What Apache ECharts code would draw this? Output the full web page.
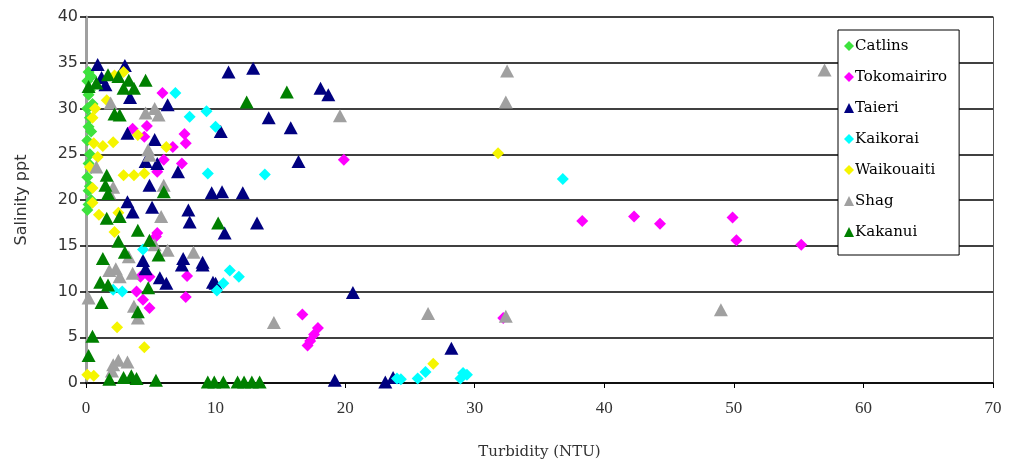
<!DOCTYPE html>
<html><head><meta charset="utf-8">
<script src="https://cdn.jsdelivr.net/npm/echarts@6/dist/echarts.min.js"></script>
<style>html,body{margin:0;padding:0;background:#fff;}#c{width:1011px;height:466px;}</style>
</head><body><div id="c"></div>
<script>
const seriesNames = ['Catlins','Tokomairiro','Taieri','Kaikorai','Waikouaiti','Shag','Kakanui'];
const xTicks = [0,10,20,30,40,50,60,70];
const yTicks = [0,5,10,15,20,25,30,35,40];

const catlins = [[0.2,34.0],[0.4,33.5],[0.1,33.0],[0.3,32.0],[0.2,31.5],[0.5,30.5],[0.1,30.0],[0.3,29.0],[0.2,28.0],[0.4,27.5],[0.1,26.5],[0.3,25.0],[0.2,24.0],[0.4,23.5],[0.1,22.5],[0.3,21.5],[0.2,21.0],[0.4,20.0],[0.2,19.5],[0.1,18.9]];
const tokomairiro = [[5.9,31.7],[4.7,28.1],[3.6,27.8],[4.5,26.9],[7.6,27.2],[7.7,26.2],[6.7,25.8],[6.0,24.4],[7.4,24.0],[5.5,23.1],[5.5,16.4],[5.4,16.0],[4.2,11.6],[4.9,11.6],[7.8,11.7],[3.9,10.0],[4.4,9.1],[4.9,8.2],[7.7,9.4],[19.9,24.4],[16.7,7.5],[17.9,6.0],[17.6,5.3],[17.3,4.6],[17.1,4.1],[32.2,7.1],[38.3,17.7],[42.3,18.2],[44.3,17.4],[49.9,18.1],[50.2,15.6],[55.2,15.1]];
const taieri = [[0.9,34.8],[3.0,34.7],[1.2,33.4],[1.5,32.6],[3.4,31.2],[6.3,30.4],[11.0,34.0],[12.9,34.4],[18.1,32.2],[18.7,31.5],[14.1,29.0],[15.8,27.9],[10.4,27.5],[3.2,27.3],[5.3,26.6],[4.6,24.2],[5.5,24.0],[7.1,23.1],[16.4,24.2],[4.9,21.6],[3.2,19.8],[3.6,18.7],[5.1,19.2],[7.9,18.9],[9.7,20.8],[10.5,20.9],[12.1,20.8],[8.0,17.6],[10.7,16.4],[13.2,17.5],[4.4,13.4],[4.6,12.5],[7.5,13.6],[7.4,12.9],[9.0,13.2],[9.0,12.9],[5.7,11.5],[6.2,10.9],[9.8,11.0],[10.0,10.9],[20.6,9.9],[19.2,0.3],[23.1,0.1],[23.7,0.6],[28.2,3.8]];
const kaikorai = [[6.9,31.7],[8.0,29.1],[9.3,29.7],[10.0,28.0],[9.4,22.9],[13.8,22.8],[4.4,14.6],[2.1,10.2],[2.8,10.0],[11.1,12.3],[11.8,11.6],[10.6,10.9],[10.1,10.1],[36.8,22.3],[24.0,0.5],[24.3,0.4],[25.6,0.5],[26.2,1.2],[28.9,0.5],[29.1,1.1],[29.4,0.9]];
const waikouaiti = [[2.9,34.0],[2.2,33.6],[1.6,30.9],[0.7,30.0],[0.5,29.0],[4.0,27.1],[6.2,25.8],[0.6,26.2],[1.3,25.9],[2.1,26.3],[0.9,24.7],[0.3,23.6],[2.9,22.7],[3.7,22.7],[4.5,22.9],[0.5,21.3],[0.5,19.7],[1.0,18.4],[2.5,18.6],[2.2,16.5],[2.4,6.1],[4.5,3.9],[0.1,0.9],[0.6,0.8],[26.8,2.1],[31.8,25.1]];
const shag = [[1.9,30.6],[4.6,29.5],[5.3,30.0],[5.6,29.3],[4.8,25.5],[4.9,24.9],[0.8,23.6],[1.8,20.8],[2.1,21.4],[6.0,21.6],[5.8,18.2],[5.3,15.1],[6.3,14.5],[3.3,13.8],[1.8,12.3],[2.3,12.5],[2.6,11.6],[3.6,12.0],[8.3,14.3],[0.2,9.3],[3.7,8.4],[4.0,7.1],[2.1,2.0],[2.5,2.5],[3.2,2.3],[2.0,1.3],[14.5,6.6],[19.6,29.2],[26.4,7.6],[32.4,7.3],[32.5,34.1],[32.4,30.7],[49.0,8.0],[57.0,34.2]];
const kakanui = [[0.2,32.4],[0.8,32.8],[1.7,33.7],[2.5,33.5],[3.3,33.1],[2.9,32.2],[3.7,32.2],[4.6,33.1],[2.2,29.4],[2.6,29.3],[12.4,30.7],[15.5,31.8],[1.6,22.7],[1.5,21.6],[1.7,20.7],[6.0,20.9],[1.6,18.0],[2.6,18.2],[4.0,16.7],[4.9,15.6],[2.5,15.5],[3.0,14.3],[1.3,13.6],[5.6,14.0],[10.2,17.5],[1.1,11.0],[1.7,10.7],[4.8,10.4],[1.2,8.8],[4.0,7.8],[0.5,5.1],[0.2,3.0],[1.8,0.4],[2.9,0.6],[3.5,0.8],[3.9,0.5],[5.4,0.3],[9.4,0.1],[9.9,0.1],[10.6,0.1],[11.7,0.1],[12.2,0.1],[12.8,0.1],[13.4,0.1]];

const allData = [catlins,tokomairiro,taieri,kaikorai,waikouaiti,shag,kakanui];
const colors = ['#3de23d','#ff00ff','#000080','#00ffff','#f5f500','#a0a0a0','#008000'];
const symbols = ['diamond','diamond','triangle','diamond','diamond','triangle','triangle'];
const sizes = [[12,12],[12,12],[14,13],[12,12],[12,12],[14,13],[14,13]];

const chart = echarts.init(document.getElementById('c'));
chart.setOption({
  animation:false,
  backgroundColor:'#fff',
  grid:{left:86,right:18,top:17,bottom:83},
  legend:{
    orient:'vertical', left:838, top:30,
    backgroundColor:'#fff', borderColor:'#000', borderWidth:1,
    padding:[7,12,14,6], itemGap:13, itemWidth:10, itemHeight:10,
    textStyle:{fontFamily:'DejaVu Serif', fontSize:15, lineHeight:18, color:'#000', padding:[0,0,0,-4]},
    data:seriesNames
  },
  xAxis:{
    type:'value', min:xTicks[0], max:xTicks[xTicks.length-1], interval:10,
    name:'Turbidity (NTU)', nameLocation:'middle', nameGap:62,
    nameTextStyle:{fontFamily:'DejaVu Serif', fontSize:15, color:'#333'},
    axisLine:{show:true, onZero:false, lineStyle:{color:'#000', width:1.5}},
    axisTick:{show:true, inside:false, length:5, lineStyle:{color:'#000'}},
    axisLabel:{margin:17, fontFamily:'Liberation Serif', fontSize:17, color:'#333'},
    splitLine:{show:false}
  },
  yAxis:[{
    type:'value', min:yTicks[0], max:yTicks[yTicks.length-1], interval:5,
    name:'Salinity ppt', nameLocation:'middle', nameGap:56,
    nameTextStyle:{fontFamily:'DejaVu Sans', fontSize:16, color:'#333'},
    axisLine:{show:true, lineStyle:{color:'#a0a0a0', width:3}},
    axisTick:{show:true, length:6, lineStyle:{color:'#000', width:1.5}},
    axisLabel:{margin:8, fontFamily:'DejaVu Sans', fontSize:16, color:'#333'},
    splitLine:{show:true, lineStyle:{color:'#000', width:1.5}}
  },{
    type:'value', min:0, max:40, interval:5, position:'right',
    axisLine:{show:true, lineStyle:{color:'#555', width:1}},
    axisTick:{show:false}, axisLabel:{show:false}, splitLine:{show:false}
  }],
  series: allData.map((d,i)=>({
    name:seriesNames[i], type:'scatter', data:d,
    symbol:symbols[i], symbolSize:sizes[i],
    itemStyle:{color:colors[i], opacity:1},
    emphasis:{disabled:true}
  }))
});
</script></body></html>
